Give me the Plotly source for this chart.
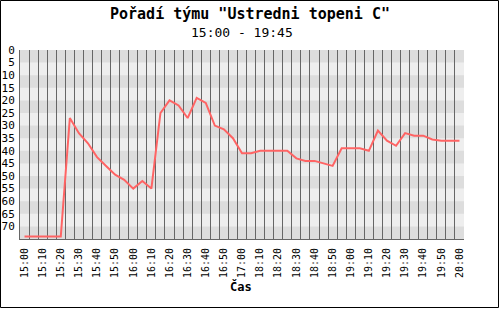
import plotly.graph_objects as go

# ---- data ----
times = ["15:00", "15:05", "15:10", "15:15", "15:20", "15:25", "15:30", "15:35",
         "15:40", "15:45", "15:50", "15:55", "16:00", "16:05", "16:10", "16:15",
         "16:20", "16:25", "16:30", "16:35", "16:40", "16:45", "16:50", "16:55",
         "17:00", "18:05", "18:10", "18:15", "18:20", "18:25", "18:30", "18:35",
         "18:40", "18:45", "18:50", "18:55", "19:00", "19:05", "19:10", "19:15",
         "19:20", "19:25", "19:30", "19:35", "19:40", "19:45", "19:50", "19:55",
         "20:00"]
rank = [74, 74, 74, 74, 74, 27, 33, 37, 42.5, 46,
        49.5, 51.5, 55, 52, 55, 25, 20, 22, 27, 19,
        21, 30, 31.5, 35, 41, 41, 40, 40, 40, 40,
        43, 44, 44, 45, 46, 39, 39, 39, 40, 32,
        36, 38, 33, 34, 34, 35.5, 36, 36, 36]
y_ticks = list(range(0, 75, 5))
y_max = 75
title = 'Pořadí týmu "Ustredni topeni C"'
subtitle = "15:00 - 19:45"
x_title = "Čas"

# ---- layout constants ----
W, H = 500, 309
L, R, T, B = 20, 36, 50, 70
pw, ph = W - L - R, H - T - B

idx = list(range(len(times)))
fig = go.Figure()
fig.add_trace(go.Scatter(x=idx, y=rank, mode="lines",
                         line=dict(color="#ff6464", width=2),
                         hoverinfo="skip", showlegend=False))

# alternating horizontal bands (dark on 0-5, 10-15, ...)
for k, v in enumerate(y_ticks + [y_max]):
    if k % 2 == 0 and v < y_max:
        fig.add_shape(type="rect", xref="paper", yref="y", x0=0, x1=1,
                      y0=v, y1=min(v + 5, y_max), fillcolor="#dddddd",
                      line=dict(width=0), layer="below")

mono = "DejaVu Sans Mono"
fig.update_layout(
    width=W, height=H,
    margin=dict(l=L, r=R, t=T, b=B, autoexpand=False),
    paper_bgcolor="white", plot_bgcolor="#eeeeee",
    font=dict(family=mono, color="black"),
    xaxis=dict(range=[-0.5, len(times) - 0.5],
               automargin=False,
               tickmode="array",
               tickvals=idx[::2], ticktext=times[::2],
               tickangle=-90, tickfont=dict(size=10, family=mono),
               showgrid=False, zeroline=False,
               showline=True, linecolor="#666666", linewidth=1,
               ticks="", ticklabelstandoff=4,
               minor=dict(tickmode="array",
                          tickvals=[i - 0.5 for i in range(len(times) + 1)],
                          showgrid=True, gridcolor="#666666", gridwidth=1,
                          ticks="")),
    yaxis=dict(range=[y_max, 0], tickmode="array", tickvals=y_ticks,
               automargin=False,
               tickfont=dict(size=11, family=mono),
               showgrid=False, zeroline=False,
               showline=True, linecolor="#666666", linewidth=1,
               ticks="", ticklabelstandoff=2),
)

fig.add_annotation(text="<b>" + title + "</b>", xref="paper", yref="paper",
                   x=(250 - L) / pw, y=1 + (T - 14) / ph, showarrow=False,
                   xanchor="center", yanchor="middle",
                   font=dict(size=15, family=mono, color="black"))
fig.add_annotation(text=subtitle, xref="paper", yref="paper",
                   x=(242 - L) / pw, y=1 + (T - 33) / ph, showarrow=False,
                   xanchor="center", yanchor="middle",
                   font=dict(size=13, family=mono, color="black"))
fig.add_annotation(text="<b>" + x_title + "</b>", xref="paper", yref="paper",
                   x=(241 - L) / pw, y=-(286 - (T + ph)) / ph, showarrow=False,
                   xanchor="center", yanchor="middle",
                   font=dict(size=12, family=mono, color="black"))

# outer black frame around the whole image
fig.add_shape(type="rect", xref="paper", yref="paper",
              x0=-(L - 0.5) / pw, x1=1 + (R - 1.5) / pw,
              y0=-(B - 1.5) / ph, y1=1 + (T - 0.5) / ph,
              line=dict(color="black", width=1), fillcolor="rgba(0,0,0,0)")

fig.write_html("out.html")
